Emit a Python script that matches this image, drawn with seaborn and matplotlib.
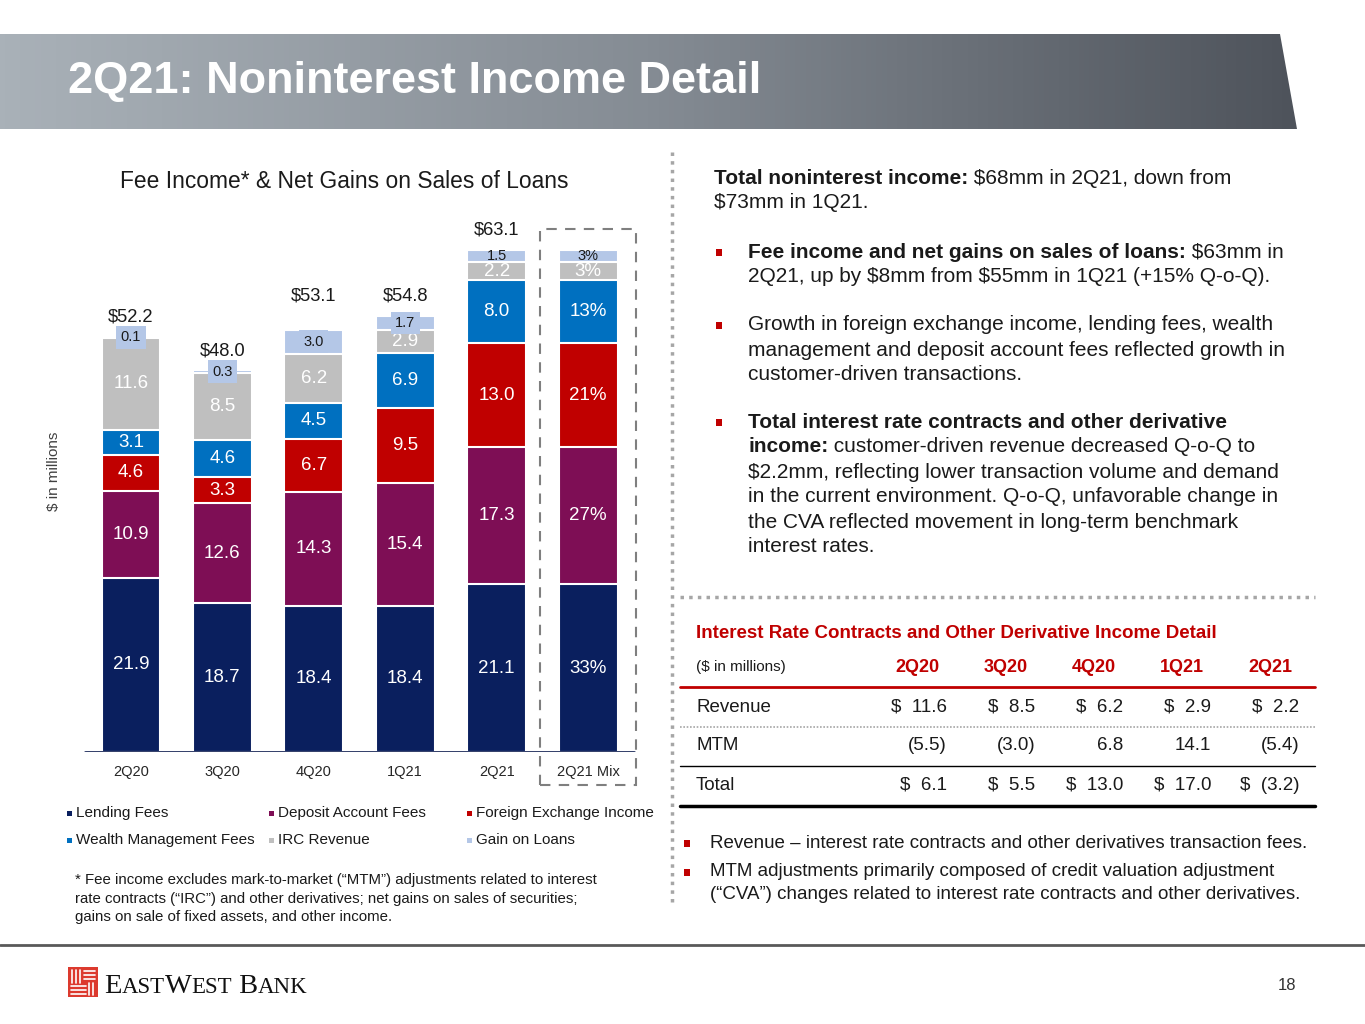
import numpy as np
import pandas as pd
import seaborn as sns
import matplotlib.pyplot as plt
from matplotlib.patches import Rectangle, Polygon
from matplotlib.colors import LinearSegmentedColormap

# ---- data ----
quarters = ["2Q20", "3Q20", "4Q20", "1Q21", "2Q21"]
mix_label = "2Q21 Mix"
series = ["Lending Fees", "Deposit Account Fees", "Foreign Exchange Income",
          "Wealth Management Fees", "IRC Revenue", "Gain on Loans"]
lending = [21.9, 18.7, 18.4, 18.4, 21.1]
deposit = [10.9, 12.6, 14.3, 15.4, 17.3]
fx = [4.6, 3.3, 6.7, 9.5, 13.0]
wealth = [3.1, 4.6, 4.5, 6.9, 8.0]
irc = [11.6, 8.5, 6.2, 2.9, 2.2]
gain = [0.1, 0.3, 3.0, 1.7, 1.5]
mix_pct = ["33%", "27%", "21%", "13%", "3%", "3%"]

# interest rate contracts table
irc_mtm = [-5.5, -3.0, 6.8, 14.1, -5.4]

colors = {"Lending Fees": "#0A1F5E", "Deposit Account Fees": "#7E0E55",
          "Foreign Exchange Income": "#C00000", "Wealth Management Fees": "#0070C0",
          "IRC Revenue": "#BFBFBF", "Gain on Loans": "#B4C7E7"}
RED = "#C00000"
INK = "#1A1A1A"

sns.set_theme(style="white")
plt.rcParams["font.family"] = ["Liberation Sans", "DejaVu Sans"]
plt.rcParams["text.parse_math"] = False  # lots of literal $ signs

fig = plt.figure(figsize=(13.65, 10.24), dpi=100)
bg = fig.add_axes([0, 0, 1, 1])
bg.axis("off")
R = fig.canvas.get_renderer()

# ---- banner ----
grad = np.linspace(0, 1, 256).reshape(1, -1)
cmap = LinearSegmentedColormap.from_list("banner", ["#A9B1B8", "#858C94", "#4E535B"])
im = bg.imshow(grad, extent=(0, 1297, 129, 34), aspect="auto", cmap=cmap)
poly = Polygon([(0, 34), (1280, 34), (1297, 129), (0, 129)], closed=True,
               facecolor="none", edgecolor="none", transform=bg.transData)
bg.add_patch(poly)
im.set_clip_path(poly)
bg.set_xlim(0, 1365)
bg.set_ylim(1024, 0)
bg.text(68, 82, "2Q21: Noninterest Income Detail", fontsize=32.5, fontweight="bold",
        color="white", ha="left", va="center")

# ---- separators ----
bg.plot([672, 672], [152, 905], color="#A6A6A6", lw=2.5, ls=(0, (1, 1.5)))
bg.plot([680, 1315], [597, 597], color="#A6A6A6", lw=2.5, ls=(0, (1, 1.5)))
bg.plot([0, 1365], [945, 945], color="#595959", lw=2)


def runs(x, y, parts, size, color=INK):
    for s, w in parts:
        t = bg.text(x, y, s, fontsize=size, fontweight=w, color=color,
                    ha="left", va="center")
        x += t.get_window_extent(renderer=R).width


def bullet(x, y):
    bg.add_patch(Rectangle((x, y - 3.5), 6, 7, color=RED, lw=0))


# ---- chart ----
cats = quarters + [mix_label]
df = pd.DataFrame({"Lending Fees": lending, "Deposit Account Fees": deposit,
                   "Foreign Exchange Income": fx, "Wealth Management Fees": wealth,
                   "IRC Revenue": irc, "Gain on Loans": gain}, index=quarters)
df.loc[mix_label] = df.loc["2Q21"]
cum = df.cumsum(axis=1)
totals = df.sum(axis=1)

ax = fig.add_axes([0.0424, 0.2656, 0.4286, 0.5435])
ax.patch.set_alpha(0)
for name in reversed(series):
    sns.barplot(x=cats, y=cum[name].values, color=colors[name], saturation=1,
                width=0.645, edgecolor="white", linewidth=1.5, errorbar=None, ax=ax)
ax.set_xlim(-0.8, 5.6)
ax.set_ylim(0, 70)
ax.axhline(0, xmin=0.047, xmax=0.984, color="#1F2D5C", lw=2)
sns.despine(ax=ax, left=True, bottom=True)
ax.set_yticks([])
ax.tick_params(axis="x", length=0, pad=9, labelsize=10.5, labelcolor="#262626")
ax.set_ylabel("$ in millions", fontsize=11, color="#404040")
ax.yaxis.set_label_coords(0.005, 0.505)

for i, cat in enumerate(cats):
    for j, name in enumerate(series):
        seg = df.loc[cat, name]
        yc = cum.loc[cat, name] - seg / 2
        txt = mix_pct[j] if cat == mix_label else f"{seg:.1f}"
        if name == "Gain on Loans":
            box = dict(boxstyle="square,pad=0.3", fc=colors[name], ec="none") if i < 4 else None
            ax.text(i, yc, txt, ha="center", va="center", fontsize=10.5,
                    color=INK, bbox=box)
        else:
            ax.text(i, yc, txt, ha="center", va="center", fontsize=13.5, color="white")

lift = [2.5, 2.5, 4.3, 2.5, 2.5]
for i, q in enumerate(quarters):
    ax.text(i, totals[q] + lift[i], f"${totals[q]:.1f}", ha="center", va="center",
            fontsize=13.2, color=INK)

ax.add_patch(Rectangle((4.475, -4.2), 1.05, 70.0, fill=False, ec="#7F7F7F",
                       lw=1.5, ls=(0, (5, 4)), clip_on=False))

bg.text(344, 181, "Fee Income* & Net Gains on Sales of Loans", fontsize=16.4,
        color=INK, ha="center", va="center")

# legend, laid out like the slide
leg_order = [(0, 0), (1, 0), (2, 0), (0, 1), (1, 1), (2, 1)]
leg_x = [67, 269, 467]
leg_y = [813, 840]
for name, (c, r) in zip(series, leg_order):
    bg.add_patch(Rectangle((leg_x[c], leg_y[r] - 2.5), 5, 5, color=colors[name], lw=0))
    bg.text(leg_x[c] + 9, leg_y[r], name, fontsize=11, color=INK, va="center")

foot = ["* Fee income excludes mark-to-market (\u201cMTM\u201d) adjustments related to interest",
        "rate contracts (\u201cIRC\u201d) and other derivatives; net gains on sales of securities;",
        "gains on sale of fixed assets, and other income."]
for k, line in enumerate(foot):
    bg.text(75, 880 + 18.5 * k, line, fontsize=10.8, color=INK, va="center")

# ---- right commentary ----
N, B = "normal", "bold"
runs(714, 179, [("Total noninterest income:", B), (" $68mm in 2Q21, down from", N)], 15)
runs(714, 203, [("$73mm in 1Q21.", N)], 15)
blocks = [
    (252, [[("Fee income and net gains on sales of loans:", B), (" $63mm in", N)],
           [("2Q21, up by $8mm from $55mm in 1Q21 (+15% Q-o-Q).", N)]]),
    (325, [[("Growth in foreign exchange income, lending fees, wealth", N)],
           [("management and deposit account fees reflected growth in", N)],
           [("customer-driven transactions.", N)]]),
    (422, [[("Total interest rate contracts and other derivative", B)],
           [("income:", B), (" customer-driven revenue decreased Q-o-Q to", N)],
           [("$2.2mm, reflecting lower transaction volume and demand", N)],
           [("in the current environment. Q-o-Q, unfavorable change in", N)],
           [("the CVA reflected movement in long-term benchmark", N)],
           [("interest rates.", N)]]),
]
for y0, lines in blocks:
    bullet(716, y0)
    for k, parts in enumerate(lines):
        runs(748, y0 + 25 * k, parts, 15)

# ---- table ----
bg.text(696, 634, "Interest Rate Contracts and Other Derivative Income Detail",
        fontsize=13.5, fontweight="bold", color=RED, va="center")
bg.text(696, 667, "($ in millions)", fontsize=11, color=INK, va="center")
col_r = [947, 1035, 1123, 1211, 1299]
for x, q in zip(col_r, quarters):
    bg.text(x - 7, 667, q, fontsize=13, fontweight="bold", color=RED, ha="right", va="center")


def acct(v):
    return f"({abs(v):.1f})" if v < 0 else f"{v:.1f}"


rows = [("Revenue", [f"$  {acct(v)}" for v in irc], 707),
        ("MTM", [acct(v) for v in irc_mtm], 746),
        ("Total", [f"$  {acct(round(a + b, 1))}" for a, b in zip(irc, irc_mtm)], 785)]
for label, cells, y in rows:
    bg.text(696, y, label, fontsize=13.5, color=INK, va="center")
    for x, s in zip(col_r, cells):
        bg.text(x, y, s, fontsize=13.5, color=INK, ha="right", va="center")
bg.plot([680, 1315], [687, 687], color=RED, lw=2)
bg.plot([680, 1315], [727, 727], color="#A6A6A6", lw=1.2, ls=(0, (1, 1)))
bg.plot([680, 1315], [766, 766], color="#000000", lw=1)
bg.plot([680, 1315], [806, 806], color="#000000", lw=2.5)

notes = [(843, ["Revenue \u2013 interest rate contracts and other derivatives transaction fees."]),
         (872, ["MTM adjustments primarily composed of credit valuation adjustment",
                "(\u201cCVA\u201d) changes related to interest rate contracts and other derivatives."])]
for y0, lines in notes:
    bullet(684, y0)
    for k, line in enumerate(lines):
        bg.text(710, y0 + 22.5 * k, line, fontsize=13.5, color=INK, va="center")

# ---- footer: logo + page number ----
bg.add_patch(Rectangle((68, 967), 30, 30, color="#DC3A2E", lw=0))
for xx in (72, 76, 80):
    bg.plot([xx, xx], [970, 983], color="white", lw=1.2)
for yy in (971, 975, 979):
    bg.plot([84, 95], [yy, yy], color="white", lw=1.2)
for yy in (986, 990, 994):
    bg.plot([71, 86], [yy, yy], color="white", lw=1.2)
for xx in (89, 93):
    bg.plot([xx, xx], [983, 995], color="white", lw=1.2)
x = 104
for s, sz in [("E", 20.5), ("AST", 16.5), ("W", 20.5), ("EST", 16.5), (" B", 20.5), ("ANK", 16.5)]:
    t = bg.text(x, 993, s, fontsize=sz, family="Liberation Serif", color="#111111",
                ha="left", va="baseline")
    x += t.get_window_extent(renderer=R).width
bg.text(1287, 986, "18", fontsize=12, color="#333333", ha="center", va="center")

fig.savefig("out.png", dpi=100)
